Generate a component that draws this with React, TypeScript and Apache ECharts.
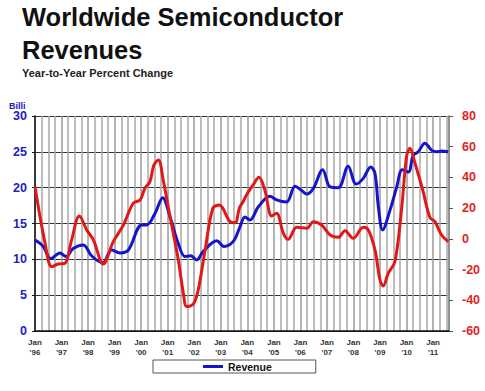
import React, { useEffect, useRef } from "react";
import * as echarts from "echarts";

const yearTicks = [1996, 1997, 1998, 1999, 2000, 2001, 2002, 2003, 2004, 2005, 2006, 2007, 2008, 2009, 2010, 2011];

// Revenue (billions, left axis)
const revenueTimes = [
  1996.0, 1996.31, 1996.59, 1996.94, 1997.17, 1997.44, 1997.82, 1998.13, 1998.55, 1998.89,
  1999.2, 1999.52, 2000.02, 2000.21, 2000.52, 2000.81, 2001.09, 2001.4, 2001.65, 2001.87,
  2002.09, 2002.34, 2002.85, 2003.12, 2003.47, 2003.72, 2003.91, 2004.1, 2004.41, 2004.85,
  2005.1, 2005.48, 2005.8, 2006.05, 2006.24, 2006.49, 2006.84, 2007.12, 2007.43, 2007.8,
  2008.1, 2008.37, 2008.65, 2008.81, 2008.94, 2009.1, 2009.38, 2009.63, 2009.84, 2010.07,
  2010.25, 2010.44, 2010.69, 2010.95, 2011.14, 2011.32, 2011.57,
];
const revenueValues = [
  12.7, 11.8, 10.1, 10.9, 10.4, 11.5, 12.0, 10.5, 9.5, 11.3,
  10.9, 11.3, 14.8, 14.8, 16.4, 18.6, 15.9, 12.2, 10.4, 10.5,
  9.9, 11.1, 12.6, 11.8, 12.5, 14.5, 15.9, 15.5, 17.3, 18.8,
  18.3, 18.0, 20.2, 19.6, 19.1, 19.9, 22.5, 20.1, 20.0, 23.0,
  20.5, 21.3, 22.9, 22.0, 17.3, 14.1, 16.9, 20.1, 22.5, 22.2,
  24.5, 25.0, 26.2, 25.2, 25.0, 25.1, 25.0,
];

// Year-to-year percent change (right axis)
const changeTimes = [
  1996.0, 1996.38, 1996.63, 1996.88, 1997.13, 1997.38, 1997.67, 1997.95, 1998.2, 1998.57,
  1998.95, 1999.33, 1999.7, 1999.96, 2000.14, 2000.33, 2000.48, 2000.65, 2000.83, 2001.09,
  2001.4, 2001.59, 2001.72, 2001.97, 2002.15, 2002.41, 2002.7, 2002.94, 2003.35, 2003.54,
  2003.7, 2003.85, 2003.97, 2004.22, 2004.44, 2004.66, 2004.92, 2005.1, 2005.36, 2005.54,
  2005.86, 2006.24, 2006.49, 2006.8, 2007.12, 2007.43, 2007.68, 2007.99, 2008.37, 2008.56,
  2008.81, 2009.0, 2009.12, 2009.31, 2009.56, 2009.81, 2010.0, 2010.13, 2010.32, 2010.61,
  2010.88, 2011.07, 2011.32, 2011.57,
];
const changeValues = [
  34, -2.9, -18.1, -16.4, -15.9, -0.7, 14.9, 5.8, -0.7, -16.4,
  -1.8, 9.0, 23.2, 25.3, 32.9, 37.2, 48.1, 51.4, 38.3, 14.4,
  -13.7, -35.4, -44.1, -42.4, -33.3, -7.2, 19.9, 22.1, 11.2, 10.5,
  20.0, 24.5, 28.6, 35.1, 40.1, 31.8, 14.9, 16.6, 3.6, -0.3,
  7.5, 6.9, 11.2, 9.0, 2.5, 1.0, 5.3, 0.4, 7.5, 5.8,
  -7.2, -26.8, -30.7, -22.4, -14.9, 18.8, 53.5, 59.0, 49.2, 31.8,
  14.0, 11.2, 2.5, -1.8,
];

const FONT = "'Liberation Sans', Arial, sans-serif";

export default function App() {
  const ref = useRef<HTMLDivElement>(null);
  useEffect(() => {
    if (!ref.current) return;
    const chart = echarts.init(ref.current, undefined, { renderer: "svg" });
    const revenue = revenueTimes.map((t, i) => [t, revenueValues[i]]);
    const change = changeTimes.map((t, i) => [t, changeValues[i]]);
    chart.setOption({
      animation: false,
      backgroundColor: "#ffffff",
      textStyle: { fontFamily: FONT },
      grid: { left: 35, right: 36, top: 116, bottom: 60, containLabel: false },
      graphic: [
        {
          type: "text", left: 22, top: 4,
          style: { text: "Worldwide Semiconductor", font: `bold 25.5px ${FONT}`, fill: "#111" },
        },
        {
          type: "text", left: 22, top: 37,
          style: { text: "Revenues", font: `bold 25.5px ${FONT}`, fill: "#111" },
        },
        {
          type: "text", left: 22, top: 67,
          style: { text: "Year-to-Year Percent Change", font: `bold 11px ${FONT}`, fill: "#222" },
        },
        {
          type: "text", left: 9, top: 101,
          style: { text: "Billi", font: `bold 9px ${FONT}`, fill: "#2020c0" },
        },
      ],
      legend: {
        data: ["Revenue"],
        left: 153,
        top: 360,
        padding: [1, 44, 1, 50],
        borderColor: "#555",
        borderWidth: 1,
        icon: "rect",
        itemWidth: 20,
        itemHeight: 3,
        textStyle: { fontFamily: FONT, fontWeight: "bold", fontSize: 10.5, color: "#111" },
      },
      xAxis: {
        type: "value",
        min: 1996,
        max: 2011.6,
        interval: 1,
        axisLine: { show: true, lineStyle: { color: "#111", width: 1.5 } },
        axisTick: { show: false },
        minorTick: { show: false, splitNumber: 4 },
        splitLine: { show: true, lineStyle: { color: "#9a9a9a", width: 1.5 } },
        minorSplitLine: { show: true, lineStyle: { color: "#a8a8a8", width: 1.5 } },
        axisLabel: {
          margin: 7,
          fontFamily: FONT,
          fontWeight: "bold",
          fontSize: 8,
          lineHeight: 9.5,
          color: "#333",
          showMaxLabel: false,
          formatter: (v: number) => {
            if (!Number.isInteger(v) || yearTicks.indexOf(v) < 0) return "";
            return `Jan\n'${String(v % 100).padStart(2, "0")}`;
          },
        },
      },
      yAxis: [
        {
          type: "value",
          min: 0,
          max: 30,
          interval: 5,
          position: "left",
          axisLine: { show: true, lineStyle: { color: "#111", width: 1.5 } },
          axisTick: { show: true, length: 3, lineStyle: { color: "#111" } },
          splitLine: { show: true, lineStyle: { color: "#333", width: 1.2 } },
          axisLabel: {
            margin: 8,
            fontFamily: FONT,
            fontWeight: "bold",
            fontSize: 12.5,
            color: "#2020c0",
          },
        },
        {
          type: "value",
          min: -60,
          max: 80,
          interval: 20,
          position: "right",
          axisLine: { show: true, lineStyle: { color: "#888", width: 1.5 } },
          axisTick: { show: true, length: 4, lineStyle: { color: "#555" } },
          splitLine: { show: false },
          axisLabel: {
            margin: 13,
            fontFamily: FONT,
            fontWeight: "bold",
            fontSize: 12.5,
            color: "#e2231c",
          },
        },
      ],
      series: [
        {
          name: "Revenue",
          type: "line",
          yAxisIndex: 0,
          data: revenue,
          smooth: 0.35,
          showSymbol: false,
          symbol: "none",
          lineStyle: { color: "#1414cc", width: 3 },
          itemStyle: { color: "#1414cc" },
          z: 3,
        },
        {
          name: "Change",
          type: "line",
          yAxisIndex: 1,
          data: change,
          smooth: 0.35,
          showSymbol: false,
          symbol: "none",
          lineStyle: { color: "#e01818", width: 3 },
          itemStyle: { color: "#e01818" },
          z: 4,
        },
      ],
    });
    return () => chart.dispose();
  }, []);
  return <div ref={ref} style={{ width: 485, height: 391, position: "absolute", left: 0, top: 0 }} />;
}
